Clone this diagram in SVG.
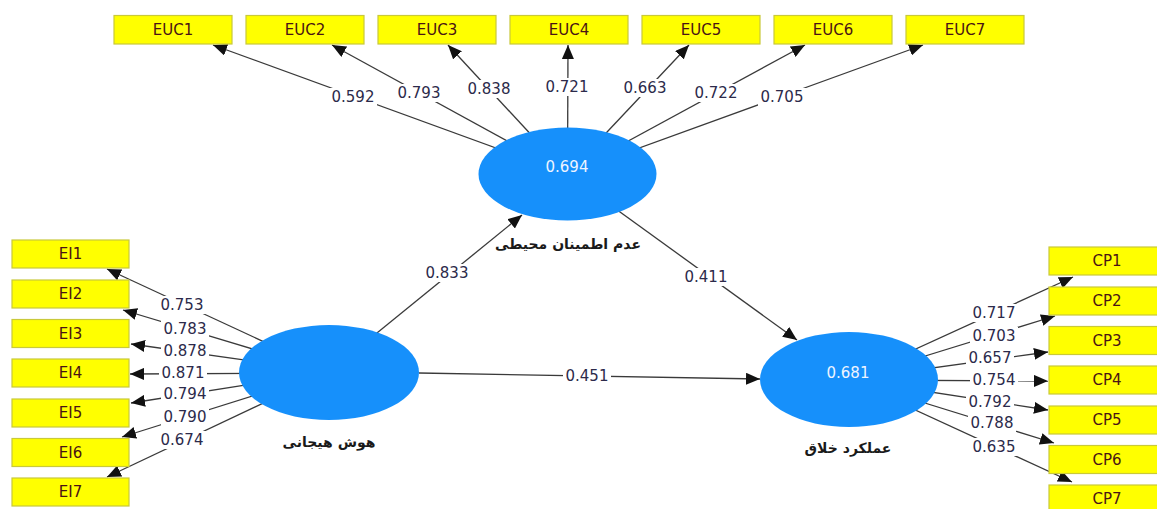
<svg xmlns="http://www.w3.org/2000/svg" width="1157" height="509" viewBox="0 0 1157 509">
  <style>
    .ind rect { fill: #ffff00; stroke: #c9c93a; stroke-width: 1.2; }
    .ind text { font-family: "DejaVu Sans", Verdana, sans-serif; font-size: 15px; fill: #4a1414; text-anchor: middle; dominant-baseline: central; }
    .lv ellipse { fill: #1790fb; filter: url(#soft); }
    .lv .val { font-family: "DejaVu Sans", Verdana, sans-serif; font-size: 15px; fill: #eef4ff; text-anchor: middle; dominant-baseline: central; }
    .lv .name { font-family: "DejaVu Sans", sans-serif; font-size: 14px; font-weight: bold; fill: #1a1a1a; text-anchor: middle; dominant-baseline: central; }
    .conn line { stroke: #3a3a3a; stroke-width: 1.3; marker-end: url(#arrow); }
    .lbl rect { fill: #ffffff; }
    .lbl text { font-family: "DejaVu Sans", Verdana, sans-serif; font-size: 15px; fill: #2c2a4a; text-anchor: middle; dominant-baseline: central; }
  </style>
  <defs>
    <marker id="arrow" markerUnits="userSpaceOnUse" markerWidth="14" markerHeight="12" viewBox="0 0 14 12" refX="14" refY="6" orient="auto">
      <path d="M0,0 L14,6 L0,12 Z" fill="#111111"/>
    </marker>
    <filter id="soft" x="-5%" y="-5%" width="110%" height="110%">
      <feGaussianBlur stdDeviation="0.7"/>
    </filter>
  </defs>
  <rect width="1157" height="509" fill="#ffffff"/>

  <!-- connectors -->
  <g id="connectors" class="conn">
    <!-- outer loadings of the top construct -->
    <line x1="567.5" y1="174" x2="213" y2="45"/>
    <line x1="567.5" y1="174" x2="332" y2="45"/>
    <line x1="567.5" y1="174" x2="448" y2="45"/>
    <line x1="567.5" y1="174" x2="568" y2="45"/>
    <line x1="567.5" y1="174" x2="689" y2="45"/>
    <line x1="567.5" y1="174" x2="805" y2="45"/>
    <line x1="567.5" y1="174" x2="923" y2="45"/>
    <!-- outer loadings of the left construct -->
    <line x1="329" y1="372" x2="107" y2="269"/>
    <line x1="329" y1="372" x2="123" y2="310"/>
    <line x1="329" y1="372" x2="131" y2="344"/>
    <line x1="329" y1="373" x2="130" y2="374"/>
    <line x1="329" y1="372" x2="131" y2="403"/>
    <line x1="329" y1="372" x2="122" y2="437"/>
    <line x1="329" y1="372" x2="107" y2="477"/>
    <!-- outer loadings of the right construct -->
    <line x1="849" y1="379.5" x2="1073" y2="277"/>
    <line x1="849" y1="379.5" x2="1055" y2="316"/>
    <line x1="849" y1="379.5" x2="1048" y2="352"/>
    <line x1="849" y1="380" x2="1048" y2="381"/>
    <line x1="849" y1="379.5" x2="1048" y2="410"/>
    <line x1="849" y1="379.5" x2="1054" y2="443"/>
    <line x1="849" y1="379.5" x2="1072" y2="482"/>
    <!-- structural paths -->
    <line x1="329" y1="372" x2="522" y2="215"/>
    <line x1="567.5" y1="174" x2="797" y2="340"/>
    <line x1="419" y1="373" x2="760" y2="379"/>
  </g>

  <!-- path coefficients and loadings -->
  <g id="labels" class="lbl">
    <rect x="329" y="88" width="48" height="18"/><text x="353" y="97">0.592</text>
    <rect x="395" y="84" width="48" height="18"/><text x="419" y="93">0.793</text>
    <rect x="465" y="80" width="48" height="18"/><text x="489" y="89">0.838</text>
    <rect x="543" y="78" width="48" height="18"/><text x="567" y="87">0.721</text>
    <rect x="621" y="79" width="48" height="18"/><text x="645" y="88">0.663</text>
    <rect x="692" y="84" width="48" height="18"/><text x="716" y="93">0.722</text>
    <rect x="758" y="88" width="48" height="18"/><text x="782" y="97">0.705</text>

    <rect x="158" y="296" width="48" height="18"/><text x="182" y="305">0.753</text>
    <rect x="161" y="320" width="48" height="18"/><text x="185" y="329">0.783</text>
    <rect x="161" y="342" width="48" height="18"/><text x="185" y="351">0.878</text>
    <rect x="159" y="364" width="48" height="18"/><text x="183" y="373">0.871</text>
    <rect x="161" y="385" width="48" height="18"/><text x="185" y="394">0.794</text>
    <rect x="161" y="408" width="48" height="18"/><text x="185" y="417">0.790</text>
    <rect x="158" y="431" width="48" height="18"/><text x="182" y="440">0.674</text>

    <rect x="970" y="304" width="48" height="18"/><text x="994" y="313">0.717</text>
    <rect x="970" y="327" width="48" height="18"/><text x="994" y="336">0.703</text>
    <rect x="966" y="349" width="48" height="18"/><text x="990" y="358">0.657</text>
    <rect x="970" y="371" width="48" height="18"/><text x="994" y="380">0.754</text>
    <rect x="966" y="393" width="48" height="18"/><text x="990" y="402">0.792</text>
    <rect x="968" y="414" width="48" height="18"/><text x="992" y="423">0.788</text>
    <rect x="970" y="438" width="48" height="18"/><text x="994" y="447">0.635</text>

    <rect x="423" y="264" width="48" height="18"/><text x="447" y="273">0.833</text>
    <rect x="682" y="268" width="48" height="18"/><text x="706" y="277">0.411</text>
    <rect x="563" y="367" width="48" height="18"/><text x="587" y="376">0.451</text>
  </g>

  <!-- latent constructs -->
  <g id="euc" class="lv">
    <ellipse cx="567.5" cy="174" rx="89" ry="46.5"/>
    <text class="val" x="567" y="167">0.694</text>
    <text class="name" x="568" y="244">عدم اطمینان محیطی</text>
  </g>
  <g id="ei" class="lv">
    <ellipse cx="329" cy="372.5" rx="90" ry="47.5"/>
    <text class="name" x="329" y="442">هوش هیجانی</text>
  </g>
  <g id="cp" class="lv">
    <ellipse cx="849" cy="379.5" rx="89" ry="47.5"/>
    <text class="val" x="848" y="373">0.681</text>
    <text class="name" x="848" y="448">عملکرد خلاق</text>
  </g>

  <!-- indicators of the top construct -->
  <g id="EUC1" class="ind"><rect x="114" y="15.5" width="118" height="28.5"/><text x="173" y="30">EUC1</text></g>
  <g id="EUC2" class="ind"><rect x="246" y="15.5" width="118" height="28.5"/><text x="305" y="30">EUC2</text></g>
  <g id="EUC3" class="ind"><rect x="378" y="15.5" width="118" height="28.5"/><text x="437" y="30">EUC3</text></g>
  <g id="EUC4" class="ind"><rect x="510" y="15.5" width="118" height="28.5"/><text x="569" y="30">EUC4</text></g>
  <g id="EUC5" class="ind"><rect x="642" y="15.5" width="118" height="28.5"/><text x="701" y="30">EUC5</text></g>
  <g id="EUC6" class="ind"><rect x="774" y="15.5" width="118" height="28.5"/><text x="833" y="30">EUC6</text></g>
  <g id="EUC7" class="ind"><rect x="906" y="15.5" width="118" height="28.5"/><text x="965" y="30">EUC7</text></g>

  <!-- indicators of the left construct -->
  <g id="EI1" class="ind"><rect x="12" y="240" width="117" height="28"/><text x="70.5" y="254">EI1</text></g>
  <g id="EI2" class="ind"><rect x="12" y="280" width="117" height="28"/><text x="70.5" y="294">EI2</text></g>
  <g id="EI3" class="ind"><rect x="12" y="319.5" width="117" height="28"/><text x="70.5" y="333.5">EI3</text></g>
  <g id="EI4" class="ind"><rect x="12" y="359" width="117" height="28"/><text x="70.5" y="373">EI4</text></g>
  <g id="EI5" class="ind"><rect x="12" y="399" width="117" height="28"/><text x="70.5" y="413">EI5</text></g>
  <g id="EI6" class="ind"><rect x="12" y="438.5" width="117" height="28"/><text x="70.5" y="452.5">EI6</text></g>
  <g id="EI7" class="ind"><rect x="12" y="478" width="117" height="28"/><text x="70.5" y="492">EI7</text></g>

  <!-- indicators of the right construct -->
  <g id="CP1" class="ind"><rect x="1049" y="247" width="116" height="28"/><text x="1107" y="261">CP1</text></g>
  <g id="CP2" class="ind"><rect x="1049" y="287" width="116" height="28"/><text x="1107" y="301">CP2</text></g>
  <g id="CP3" class="ind"><rect x="1049" y="326.5" width="116" height="28"/><text x="1107" y="340.5">CP3</text></g>
  <g id="CP4" class="ind"><rect x="1049" y="366" width="116" height="28"/><text x="1107" y="380">CP4</text></g>
  <g id="CP5" class="ind"><rect x="1049" y="406" width="116" height="28"/><text x="1107" y="420">CP5</text></g>
  <g id="CP6" class="ind"><rect x="1049" y="445.5" width="116" height="28"/><text x="1107" y="459.5">CP6</text></g>
  <g id="CP7" class="ind"><rect x="1049" y="485" width="116" height="28"/><text x="1107" y="499">CP7</text></g>
</svg>
